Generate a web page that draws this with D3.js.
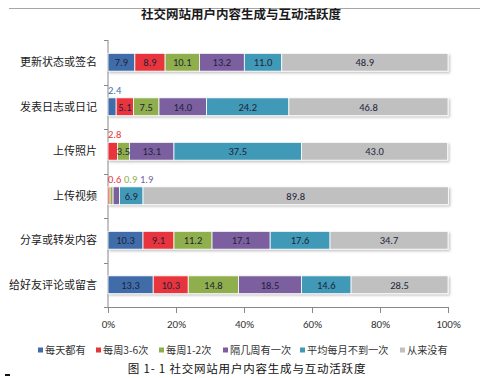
<!DOCTYPE html>
<html><head><meta charset="utf-8">
<script src="https://cdn.jsdelivr.net/npm/d3@7"></script>
<style>
body{margin:0;background:#fff;}
svg{display:block;font-family:"Microsoft YaHei","Noto Sans CJK SC",sans-serif;}
</style></head>
<body><svg id="c" width="489" height="378"></svg>
<script>
const categories = ["更新状态或签名","发表日志或日记","上传照片","上传视频","分享或转发内容","给好友评论或留言"];
const seriesNames = ["每天都有","每周3-6次","每周1-2次","隔几周有一次","平均每月不到一次","从来没有"];
const s1 = [7.9, 2.4, 0, 0, 10.3, 13.3];
const s2 = [8.9, 5.1, 2.8, 0.6, 9.1, 10.3];
const s3 = [10.1, 7.5, 3.5, 0.9, 11.2, 14.8];
const s4 = [13.2, 14.0, 13.1, 1.9, 17.1, 18.5];
const s5 = [11.0, 24.2, 37.5, 6.9, 17.6, 14.6];
const s6 = [48.9, 46.8, 43.0, 89.8, 34.7, 28.5];
const tickValues = [0, 20, 40, 60, 80, 100];
const colors = ["#3F6DA9","#E8353C","#8FAF4E","#7B5E9F","#4199B6","#C0C0C0"];
const title = "社交网站用户内容生成与互动活跃度";
const caption = "图 1- 1 社交网站用户内容生成与互动活跃度";

const series = [s1,s2,s3,s4,s5,s6];
const svg = d3.select("#c");
const x = d3.scaleLinear().domain([0,100]).range([108,448]);
const y = d3.scaleBand().domain(categories).range([40,307]).paddingInner(0.6).paddingOuter(0.3);

// top rule
svg.append("line").attr("x1",9).attr("x2",480).attr("y1",8.5).attr("y2",8.5).attr("stroke","#a6a6a6").attr("stroke-width",1.2);
svg.append("text").attr("x",241).attr("y",19).attr("text-anchor","middle")
  .attr("font-size",12.5).attr("font-weight","bold").attr("fill","#1a1a1a").text(title);

// shadow filter
const defs = svg.append("defs");
const f = defs.append("filter").attr("id","sh").attr("x","-5%").attr("y","-20%").attr("width","110%").attr("height","160%");
f.append("feDropShadow").attr("dx",1.5).attr("dy",1.5).attr("stdDeviation",1).attr("flood-color","#000").attr("flood-opacity",0.25);

// y axis line and ticks between categories
svg.append("line").attr("x1",108).attr("x2",108).attr("y1",40).attr("y2",307).attr("stroke","#888");
const tickYs = d3.range(categories.length+1).map(i => 40 + i*(267/categories.length));
svg.selectAll(".yt").data(tickYs).join("line").attr("x1",104).attr("x2",108)
  .attr("y1",d=>Math.round(d)+0.5).attr("y2",d=>Math.round(d)+0.5).attr("stroke","#888");

const xg = svg.append("g").attr("transform","translate(0,307)")
  .call(d3.axisBottom(x).tickValues(tickValues).tickSize(6).tickFormat(d=>d+"%"));
xg.select(".domain").attr("stroke","#888");
xg.selectAll(".tick line").attr("stroke","#888");
xg.selectAll(".tick text").attr("font-size",11).attr("fill","#333").attr("dy","1.05em")
  .attr("font-family","Calibri,'Liberation Sans',Arial,sans-serif");

// category labels
svg.selectAll(".cat").data(categories).join("text")
  .attr("x",97).attr("y",d=>y(d)+y.bandwidth()/2+4).attr("text-anchor","end")
  .attr("font-size",11).attr("fill","#1a1a1a").text(d=>d);

// bars
categories.forEach((cat,ci)=>{
  let acc = 0;
  const g = svg.append("g").attr("filter","url(#sh)");
  let prevEnd = -1;
  const outs = svg.append("g");
  series.forEach((s,si)=>{
    const v = s[ci];
    const x0 = x(acc), x1 = x(acc+v);
    acc += v;
    if (v <= 0) return;
    g.append("rect").attr("x",x0).attr("y",y(cat)).attr("width",x1-x0).attr("height",y.bandwidth())
      .attr("fill",colors[si]).attr("stroke","#fff").attr("stroke-width",0.8);
    const cy = y(cat)+y.bandwidth()/2;
    if (v >= 3) {
      svg.append("text").attr("x",(x0+x1)/2).attr("y",cy+4).attr("text-anchor","middle")
        .attr("font-size",10.5).attr("fill","#1f1f3a")
        .attr("font-family","Calibri,'Liberation Sans',Arial,sans-serif").text(v.toFixed(1));
    } else {
      const lx = Math.max(x0, prevEnd + 3);
      outs.append("text").attr("x",lx).attr("y",cy-13).attr("text-anchor","start")
        .attr("font-size",10.5).attr("fill",colors[si])
        .attr("font-family","Calibri,'Liberation Sans',Arial,sans-serif").text(v.toFixed(1));
      prevEnd = lx + 13;
    }
  });
});

// legend
const legX = [45, 103, 166, 230, 307, 407];
const lg = svg.selectAll(".lg").data(seriesNames).join("g")
  .attr("transform",(d,i)=>`translate(${legX[i]},354)`);
lg.append("rect").attr("x",-7).attr("y",-6.5).attr("width",5).attr("height",5).attr("fill",(d,i)=>colors[i]);
lg.append("text").attr("x",0).attr("y",0).attr("font-size",10.2).attr("fill","#333").text(d=>d);

svg.append("text").attr("x",247).attr("y",373).attr("text-anchor","middle")
  .attr("font-size",11.5).attr("letter-spacing",0.8).attr("fill","#111").text(caption);
svg.append("rect").attr("x",5).attr("y",374).attr("width",5).attr("height",2).attr("fill","#111");
</script></body></html>
